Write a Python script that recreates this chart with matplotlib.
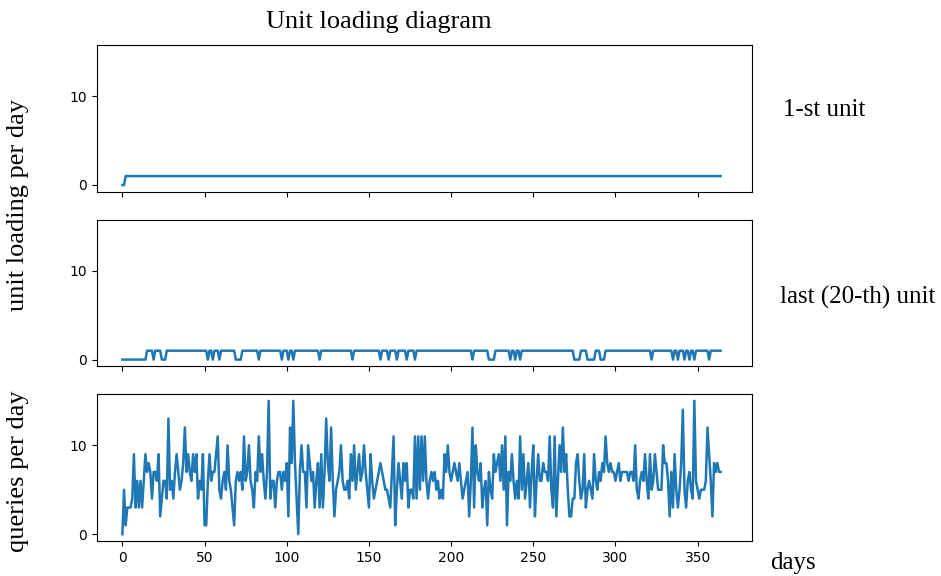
#!/usr/bin/env python3

import numpy as np
import matplotlib
matplotlib.use("Agg")
import matplotlib.pyplot as plt

# ------------------------------------------------------------------------
# Data:
# ------------------------------------------------------------------------

days = list(range(365))

# days on which each unit was idle (loading 0), loading is 1 otherwise
unit1_idle_days = [0, 1]
unit20_idle_days = (
  list(range(0, 15)) + [19, 24, 25, 26, 52, 55, 59, 69, 70, 71, 72, 83,
  97, 101, 104, 120, 140, 157, 162, 167, 173, 178, 213, 223, 224, 225, 226,
  236, 239, 242, 275, 276, 277, 278, 283, 284, 285, 286, 287, 291, 292, 293,
  322, 335, 338, 342, 345, 348, 357]
)

queries = [
  0, 5, 1, 3, 3, 3, 4, 9, 3, 6,
  3, 6, 3, 6, 9, 7, 8, 7, 4, 7,
  7, 6, 9, 2, 4, 6, 6, 4, 13, 5,
  6, 4, 7, 9, 7, 5, 6, 8, 12, 7,
  9, 7, 6, 9, 7, 9, 4, 6, 5, 9,
  1, 1, 6, 9, 6, 7, 7, 9, 11, 5,
  4, 6, 7, 5, 10, 6, 5, 3, 1, 6,
  7, 6, 7, 5, 11, 6, 7, 10, 6, 5,
  3, 7, 6, 11, 7, 9, 6, 4, 7, 15,
  4, 6, 6, 3, 6, 7, 7, 5, 7, 6,
  8, 2, 12, 8, 15, 8, 4, 0, 7, 10,
  7, 7, 3, 10, 8, 6, 7, 3, 6, 8,
  3, 9, 3, 7, 13, 8, 6, 12, 6, 2,
  5, 6, 7, 10, 6, 5, 5, 6, 4, 9,
  6, 10, 5, 7, 9, 6, 7, 10, 7, 5,
  3, 9, 6, 4, 5, 6, 7, 8, 7, 6,
  5, 5, 4, 3, 7, 11, 1, 5, 8, 6,
  4, 8, 6, 8, 3, 5, 5, 4, 11, 4,
  11, 5, 11, 6, 11, 6, 4, 6, 7, 6,
  7, 5, 6, 4, 5, 4, 9, 7, 10, 7,
  6, 7, 8, 7, 6, 8, 6, 4, 5, 6,
  7, 2, 6, 12, 3, 10, 7, 6, 8, 3,
  5, 6, 1, 7, 5, 4, 9, 7, 8, 9,
  6, 10, 5, 11, 1, 7, 6, 9, 6, 4,
  6, 4, 11, 5, 9, 4, 6, 8, 3, 7,
  10, 2, 6, 9, 6, 6, 8, 7, 7, 6,
  11, 5, 3, 11, 2, 6, 10, 7, 12, 7,
  9, 5, 2, 2, 4, 4, 8, 9, 6, 4,
  5, 9, 3, 5, 6, 5, 4, 9, 6, 5,
  7, 6, 8, 7, 11, 8, 7, 8, 7, 7,
  6, 7, 8, 6, 7, 7, 7, 7, 6, 7,
  7, 6, 10, 5, 4, 6, 7, 6, 9, 6,
  4, 9, 5, 6, 9, 7, 5, 5, 5, 10,
  8, 8, 6, 2, 7, 3, 9, 5, 3, 5,
  8, 14, 5, 3, 6, 7, 5, 4, 15, 6,
  5, 4, 5, 5, 5, 6, 12, 9, 6, 2,
  8, 7, 8, 7, 7,
]

unit1 = [0 if d in unit1_idle_days else 1 for d in days]
unit20 = [0 if d in unit20_idle_days else 1 for d in days]

# ------------------------------------------------------------------------
# Plot:
# ------------------------------------------------------------------------

serif = ["Liberation Serif", "DejaVu Serif"]

fig, axes = plt.subplots(3, 1, sharex=True, sharey=True, figsize=(9.41, 5.76), dpi=100)
fig.subplots_adjust(left=0.103, right=0.799, top=0.922, bottom=0.061, hspace=0.19)

for ax, series in zip(axes, [unit1, unit20, queries]):
  ax.plot(days, series, color="#1f77b4", linewidth=1.8)
  ax.set_yticks([0, 10])
  ax.tick_params(labelsize=10)

axes[2].set_xticks([0, 50, 100, 150, 200, 250, 300, 350])
axes[2].set_xlim(-15.5, 383)

fig.text(0.403, 0.962, "Unit loading diagram", ha="center", va="center", fontsize=19, family=serif)
fig.text(0.019, 0.644, "unit loading per day", rotation=90, ha="center", va="center", fontsize=19, family=serif)
fig.text(0.019, 0.182, "queries per day", rotation=90, ha="center", va="center", fontsize=19, family=serif)
fig.text(0.832, 0.809, "1-st unit", ha="left", va="center", fontsize=18, family=serif)
fig.text(0.829, 0.484, "last (20-th) unit", ha="left", va="center", fontsize=18, family=serif)
fig.text(0.818, 0.023, "days", ha="left", va="center", fontsize=18, family=serif)

fig.savefig("out.png", dpi=100)
